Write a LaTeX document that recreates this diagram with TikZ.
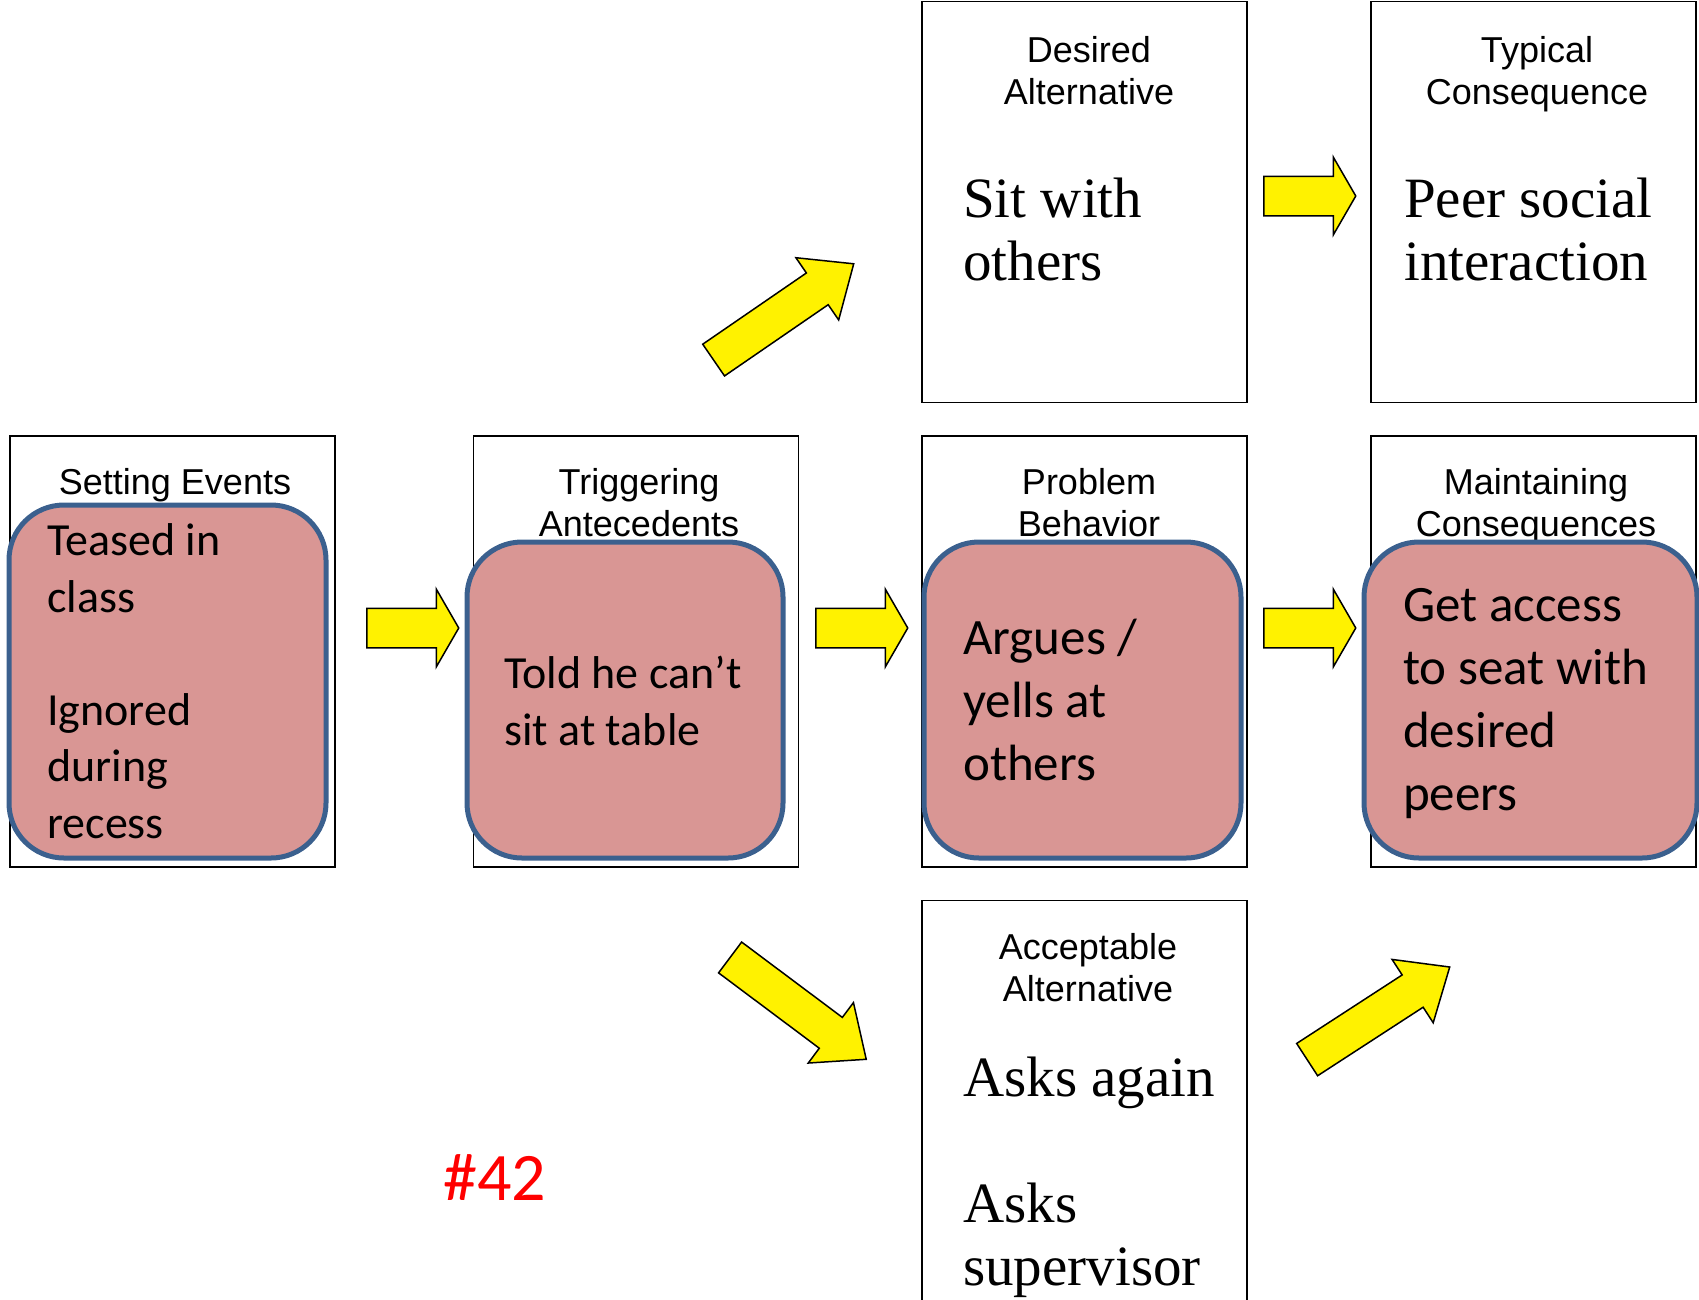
\documentclass[tikz,border=0pt]{standalone}
\usepackage{fontspec}
\usepackage{tikz}
\usetikzlibrary{positioning, shapes.arrows, calc}
\newfontfamily\hdfont{Liberation Sans}
\newfontfamily\bodyfont{Carlito}
\newfontfamily\altfont{Liberation Serif}
\definecolor{evpink}{RGB}{217,150,148}
\definecolor{evblue}{RGB}{59,96,142}

\begin{document}
\begin{tikzpicture}[
  x=1pt, y=-1pt,
  frame/.style={draw,line width=1.6pt,minimum width=325pt,minimum height=431pt,inner sep=0pt},
  head/.style={font=\hdfont\fontsize{36}{42}\selectfont,align=center,anchor=base,inner sep=0pt},
  event/.style={draw=evblue,fill=evpink,line width=5pt,rounded corners=55pt,minimum height=316pt,inner sep=0pt},
  body/.style={font=\bodyfont\fontsize{46}{56.5}\selectfont,align=left,anchor=base west,inner sep=0pt},
  bigbody/.style={body,font=\bodyfont\fontsize{51}{63}\selectfont},
  alt/.style={font=\altfont\fontsize{57}{63}\selectfont,align=left,anchor=base west,inner sep=0pt},
  flat/.style={single arrow,draw,fill=yellow,line width=1.5pt,minimum height=92pt,minimum width=76pt,
    single arrow head extend=19pt,single arrow tip angle=120,inner xsep=0pt,inner ysep=19pt,anchor=tail},
  tilt/.style={flat,minimum height=170pt,minimum width=74pt,inner ysep=18.5pt,
    single arrow head extend=18.5pt,single arrow tip angle=81}
]
\useasboundingbox (0,0) rectangle (1699,1299);
\clip (0,0) rectangle (1699,1299);
\node[frame] (se) at (172.5,651.5) {};
\node[frame] (ta) at (636,651.5) {};
\node[frame] (pb) at (1084.5,651.5) {};
\node[frame] (mc) at (1533.5,651.5) {};
\node[frame,minimum height=401pt,above=32pt of pb] (da) {};
\node[frame,minimum height=401pt,above=32pt of mc] (tc) {};
\node[frame,below=32pt of pb] (aa) {};
\node[head] (seHead) at (175,494) {Setting Events};
\node[head] (taHead) at (639,536) {Triggering\\Antecedents};
\node[head] (pbHead) at (1089,536) {Problem\\Behavior};
\node[head] (mcHead) at (1536,536) {Maintaining\\Consequences};
\node[head] (daHead) at (1089,104) {Desired\\Alternative};
\node[head] (tcHead) at (1537,104) {Typical\\Consequence};
\node[head] (aaHead) at (1088,1001) {Acceptable\\Alternative};
\node[event,minimum width=317pt,minimum height=353pt] (seEvent) at (167.5,681.5) {};
\node[event,minimum width=316pt] (taEvent) at (625,700) {};
\node[event,minimum width=317pt] (pbEvent) at (1082.5,700) {};
\node[event,minimum width=333pt] (mcEvent) at (1530.5,700) {};
\node[body] (seText) at (47,838) {Teased in\\class\\~\\Ignored\\during\\recess};
\node[body] (taText) at (504,745) {Told he can’t\\sit at table};
\node[bigbody] (pbText) at (963,780) {Argues /\\yells at\\others};
\node[bigbody] (mcText) at (1403,810) {Get access\\to seat with\\desired\\peers};
\node[alt] (daText) at (963,280) {Sit with\\others};
\node[alt] (tcText) at (1404,280) {Peer social\\interaction};
\node[alt] (aaText) at (963,1285) {Asks again\\~\\Asks\\supervisor};
\node[font=\bodyfont\fontsize{68}{80}\selectfont,text=red,anchor=base west,inner sep=0pt] (tag) at (443,1200) {\#42};
\node[flat] (seToTa) at (366,628) {};
\node[flat] (taToPb) at (815,628) {};
\node[flat] (pbToMc) at (1263,628) {};
\node[flat] (daToTc) at (1263,196) {};
\node[tilt,rotate=34.5] (taToDa) at (713,360.5) {};
\node[tilt,rotate=-36.8] (taToAa) at (729.5,957) {};
\node[tilt,rotate=33] (aaToMc) at (1306.5,1060) {};
\end{tikzpicture}
\end{document}
